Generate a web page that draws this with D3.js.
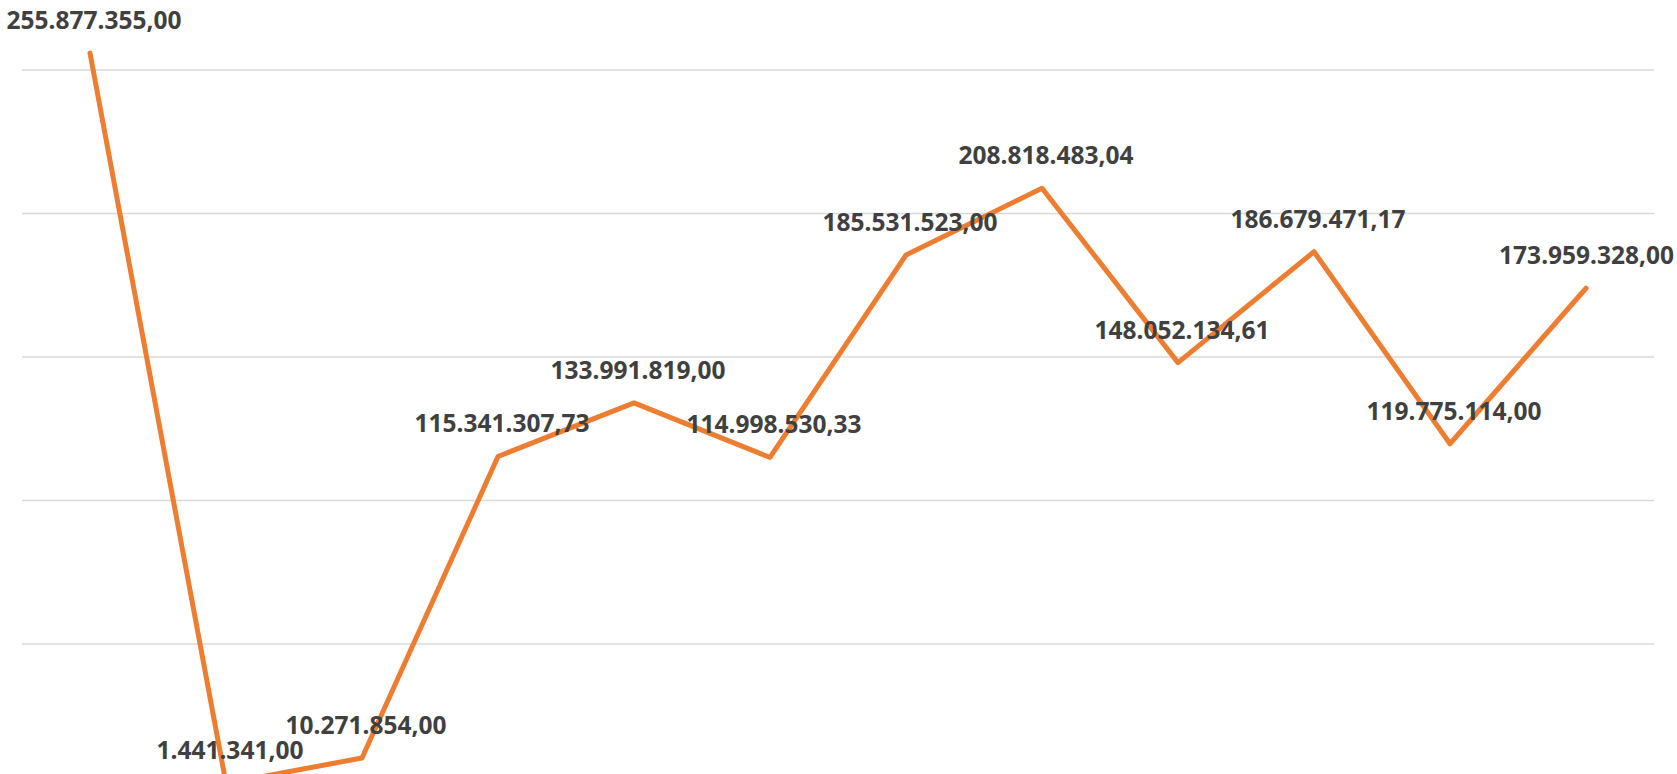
<!DOCTYPE html>
<html>
<head>
<meta charset="utf-8">
<script src="https://cdn.jsdelivr.net/npm/d3@7"></script>
<style>
  html, body { margin: 0; padding: 0; background: #fff; overflow: hidden; }
  #chart { width: 1677px; height: 774px; overflow: hidden; }
</style>
</head>
<body>
<div id="chart"></div>
<script>
// data
const categories = ["1", "2", "3", "4", "5", "6", "7", "8", "9", "10", "11", "12"];
const values = [255877355.00, 1441341.00, 10271854.00, 115341307.73, 133991819.00, 114998530.33,
                185531523.00, 208818483.04, 148052134.61, 186679471.17, 119775114.00, 173959328.00];
const gridTicks = [0, 50000000, 100000000, 150000000, 200000000, 250000000];

const width = 1677, height = 840;
const plot = {left: 22, right: 1654, top: 70, zero: 787.5};

const ptBR = d3.formatLocale({decimal: ",", thousands: ".", grouping: [3], currency: ["", ""]});
const fmt = ptBR.format(",.2f");

const svg = d3.select("#chart").append("svg")
  .attr("width", width)
  .attr("height", height);

const x = d3.scalePoint()
  .domain(categories)
  .range([plot.left, plot.right])
  .padding(0.5);

const y = d3.scaleLinear()
  .domain([0, 250000000])
  .range([plot.zero, plot.top]);

// gridlines
svg.append("g").attr("class", "grid")
  .selectAll("line")
  .data(gridTicks)
  .enter()
  .append("line")
  .attr("x1", plot.left)
  .attr("x2", plot.right)
  .attr("y1", d => y(d))
  .attr("y2", d => y(d))
  .style("stroke", "#d9d9d9")
  .style("stroke-width", "1.5px");

const line = d3.line()
  .x((d, i) => x(categories[i]))
  .y(d => y(d));

svg.append("path")
  .datum(values)
  .attr("d", line)
  .style("fill", "none")
  .style("stroke", "#ed7d31")
  .style("stroke-width", "5px")
  .style("stroke-linejoin", "round")
  .style("stroke-linecap", "round");

// data labels
let labels = svg.append("g").attr("class", "labels")
  .selectAll("text")
  .data(values)
  .enter()
  .append("text")
  .attr("x", (d, i) => x(categories[i]) + 4)
  .attr("y", d => y(d) - 24)
  .attr("text-anchor", "middle")
  .attr("font-family", "'Noto Sans', sans-serif")
  .attr("font-weight", "bold")
  .attr("font-size", "24.5px")
  .attr("fill", "#404040")
  .text(d => fmt(d));

// keep labels inside the page (like excel does)
labels.each(function () {
  let b = this.getBBox();
  let over = b.x + b.width - (width - 3);
  if (over > 0) d3.select(this).attr("x", +d3.select(this).attr("x") - over);
});
</script>
</body>
</html>
